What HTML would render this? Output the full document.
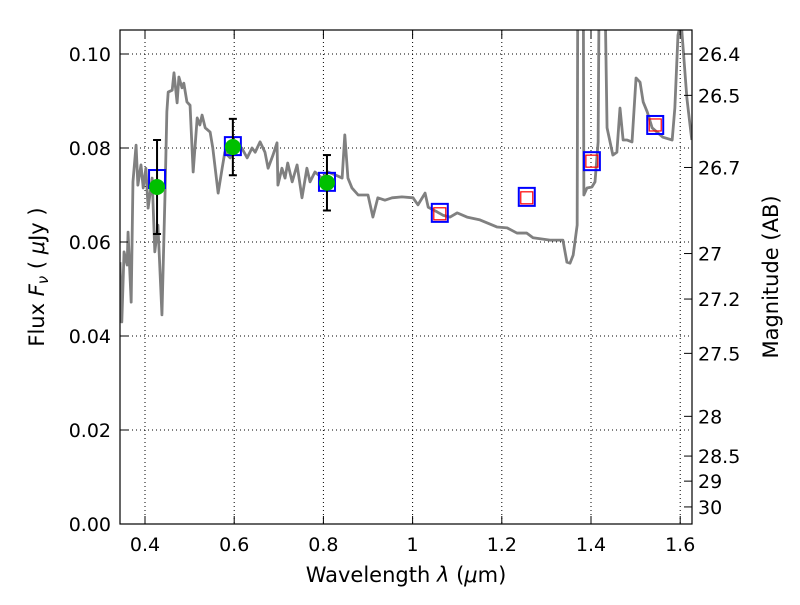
<!DOCTYPE html>
<html><head><meta charset="utf-8"><style>
body{margin:0;background:#fff}
svg{font-family:"DejaVu Sans","Liberation Sans",sans-serif}
</style></head><body>
<svg id="chart" width="800" height="600" xmlns="http://www.w3.org/2000/svg">
<defs><clipPath id="clip"><rect x="120" y="30" width="572" height="494"/></clipPath></defs>
<rect width="800" height="600" fill="#fff"/>
<g id="grid"></g>
<g id="spec" clip-path="url(#clip)"></g>
<g id="marks"></g>
<rect x="120" y="30" width="572" height="494" fill="none" stroke="#000" stroke-width="1.2"/>
<g id="axes"></g>
<text x="406" y="582" font-size="21" text-anchor="middle">Wavelength  <tspan font-style="italic">λ</tspan> (<tspan font-style="italic">μ</tspan>m)</text>
<text transform="translate(44,277) rotate(-90)" font-size="21" text-anchor="middle">Flux  <tspan font-style="italic">F<tspan font-size="15" dy="4">ν</tspan></tspan><tspan dy="-4"> ( <tspan font-style="italic">μ</tspan>Jy )</tspan></text>
<text transform="translate(778,277) rotate(-90)" font-size="21" text-anchor="middle">Magnitude (AB)</text>
</svg>
<script>
const specLam=[0.344,0.348,0.353,0.360,0.362,0.369,0.373,0.380,0.384,0.391,0.396,0.402,0.407,0.416,0.422,0.429,0.438,0.445,0.449,0.452,0.461,0.465,0.472,0.476,0.483,0.487,0.494,0.501,0.508,0.517,0.523,0.528,0.535,0.546,0.552,0.564,0.573,0.579,0.591,0.602,0.617,0.629,0.640,0.647,0.658,0.669,0.676,0.687,0.696,0.698,0.707,0.714,0.720,0.730,0.741,0.752,0.763,0.770,0.781,0.797,0.810,0.826,0.842,0.848,0.855,0.864,0.878,0.900,0.911,0.922,0.938,0.954,0.976,1.001,1.012,1.028,1.035,1.055,1.068,1.084,1.100,1.122,1.151,1.189,1.212,1.234,1.256,1.270,1.308,1.337,1.346,1.353,1.360,1.369,1.371,1.382,1.384,1.391,1.402,1.409,1.416,1.420,1.427,1.436,1.449,1.458,1.465,1.472,1.481,1.492,1.501,1.510,1.517,1.526,1.537,1.561,1.582,1.588,1.595,1.602,1.615,1.626];
const specFlux=[0.0557,0.0430,0.0579,0.0551,0.0621,0.0472,0.0728,0.0806,0.0721,0.0764,0.0715,0.0757,0.0672,0.0736,0.0579,0.0636,0.0445,0.0706,0.0877,0.0919,0.0923,0.0960,0.0896,0.0951,0.0928,0.0938,0.0898,0.0891,0.0749,0.0864,0.0849,0.0870,0.0843,0.0834,0.0800,0.0704,0.0757,0.0791,0.0779,0.0800,0.0800,0.0779,0.0800,0.0791,0.0813,0.0791,0.0757,0.0785,0.0811,0.0721,0.0757,0.0736,0.0768,0.0728,0.0764,0.0694,0.0757,0.0728,0.0749,0.0736,0.0749,0.0743,0.0736,0.0828,0.0736,0.0715,0.0700,0.0700,0.0653,0.0694,0.0689,0.0694,0.0696,0.0694,0.0679,0.0704,0.0674,0.0664,0.0657,0.0653,0.0662,0.0653,0.0647,0.0632,0.0630,0.0619,0.0619,0.0609,0.0604,0.0604,0.0557,0.0555,0.0572,0.0636,0.14,0.14,0.0700,0.0715,0.0717,0.0728,0.0813,0.14,0.14,0.0843,0.0785,0.0791,0.0885,0.0817,0.0817,0.0813,0.0949,0.0940,0.0898,0.0877,0.0843,0.0823,0.0817,0.0885,0.104,0.107,0.0906,0.0817];
const obsLam=[0.427,0.597,0.808];
const obsFlux=[0.0717,0.0802,0.0726];
const obsErr=[0.0100,0.0060,0.0059];
const modLam=[0.427,0.597,0.808,1.061,1.256,1.402,1.544];
const modFlux=[0.0734,0.0804,0.0728,0.0662,0.0696,0.0772,0.0849];
const predLam=[1.061,1.256,1.402,1.544];
const predFlux=[0.0660,0.0694,0.0772,0.0849];
const xTicks=[0.4,0.6,0.8,1.0,1.2,1.4,1.6];
const xTickLabels=["0.4","0.6","0.8","1","1.2","1.4","1.6"];
const yTicks=[0,0.02,0.04,0.06,0.08,0.10];
const yTickLabels=["0.00","0.02","0.04","0.06","0.08","0.10"];
const magTicks=[26.4,26.5,26.7,27,27.2,27.5,28,28.5,29,30];
const magLabels=["26.4","26.5","26.7","27","27.2","27.5","28","28.5","29","30"];
const X=l=>145+(l-0.4)*446;
const Y=f=>524-f*4700;
const NS="http://www.w3.org/2000/svg";
function mk(t,a,p){const e=document.createElementNS(NS,t);for(const k in a)e.setAttribute(k,a[k]);p.appendChild(e);return e;}
const grid=document.getElementById('grid'),axes=document.getElementById('axes'),spec=document.getElementById('spec'),marks=document.getElementById('marks');
xTicks.forEach((v,i)=>{
 const l=mk('line',{x1:X(v),x2:X(v),y1:30,y2:524,stroke:'#000','stroke-width':1,'stroke-dasharray':'1,3'},grid);
 
 
 mk('line',{x1:X(v),x2:X(v),y1:524,y2:516,stroke:'#000'},axes);
 mk('line',{x1:X(v),x2:X(v),y1:30,y2:38,stroke:'#000'},axes);
 const t=mk('text',{x:X(v),y:551,'font-size':19,'text-anchor':'middle'},axes);t.textContent=xTickLabels[i];
 
 
});
yTicks.forEach((v,i)=>{
 const l=mk('line',{x1:120,x2:692,y1:Y(v),y2:Y(v),stroke:'#000','stroke-width':1,'stroke-dasharray':'1,3'},grid);
 
 
 mk('line',{x1:120,x2:128,y1:Y(v),y2:Y(v),stroke:'#000'},axes);
 const t=mk('text',{x:111,y:Y(v)+7,'font-size':19,'text-anchor':'end'},axes);t.textContent=yTickLabels[i];
 
 
});
magTicks.forEach((m,i)=>{
 const f=Math.pow(10,(23.9-m)/2.5);
 mk('line',{x1:684,x2:692,y1:Y(f),y2:Y(f),stroke:'#000'},axes);
 const t=mk('text',{x:698,y:Y(f)+7,'font-size':19},axes);t.textContent=magLabels[i];
 
 
});
const p=mk('polyline',{points:specLam.map((l,i)=>X(l)+','+Y(specFlux[i])).join(' '),fill:'none',stroke:'#808080','stroke-width':2.8,'stroke-linejoin':'round'},spec);


modLam.forEach((l,i)=>{
 const r=mk('rect',{x:X(l)-8,y:Y(modFlux[i])-9,width:16,height:18,fill:'none',stroke:'#0000ff','stroke-width':2},marks);
 
 
});
predLam.forEach((l,i)=>{
 const r=mk('rect',{x:X(l)-6,y:Y(predFlux[i])-6,width:12,height:12,fill:'none',stroke:'#ff0000','stroke-width':1.2},marks);
 
 
});
obsLam.forEach((l,i)=>{
 const x=X(l),y1=Y(obsFlux[i]+obsErr[i]),y2=Y(obsFlux[i]-obsErr[i]);
 const g=mk('g',{},marks);
 
 
 mk('line',{x1:x,x2:x,y1:y1,y2:y2,stroke:'#000','stroke-width':2},g);
 mk('line',{x1:x-4,x2:x+4,y1:y1,y2:y1,stroke:'#000','stroke-width':2},g);
 mk('line',{x1:x-4,x2:x+4,y1:y2,y2:y2,stroke:'#000','stroke-width':2},g);
 const c=mk('circle',{cx:x,cy:Y(obsFlux[i]),r:8,fill:'#00c000'},marks);
 
 
});
</script>
</body></html>
